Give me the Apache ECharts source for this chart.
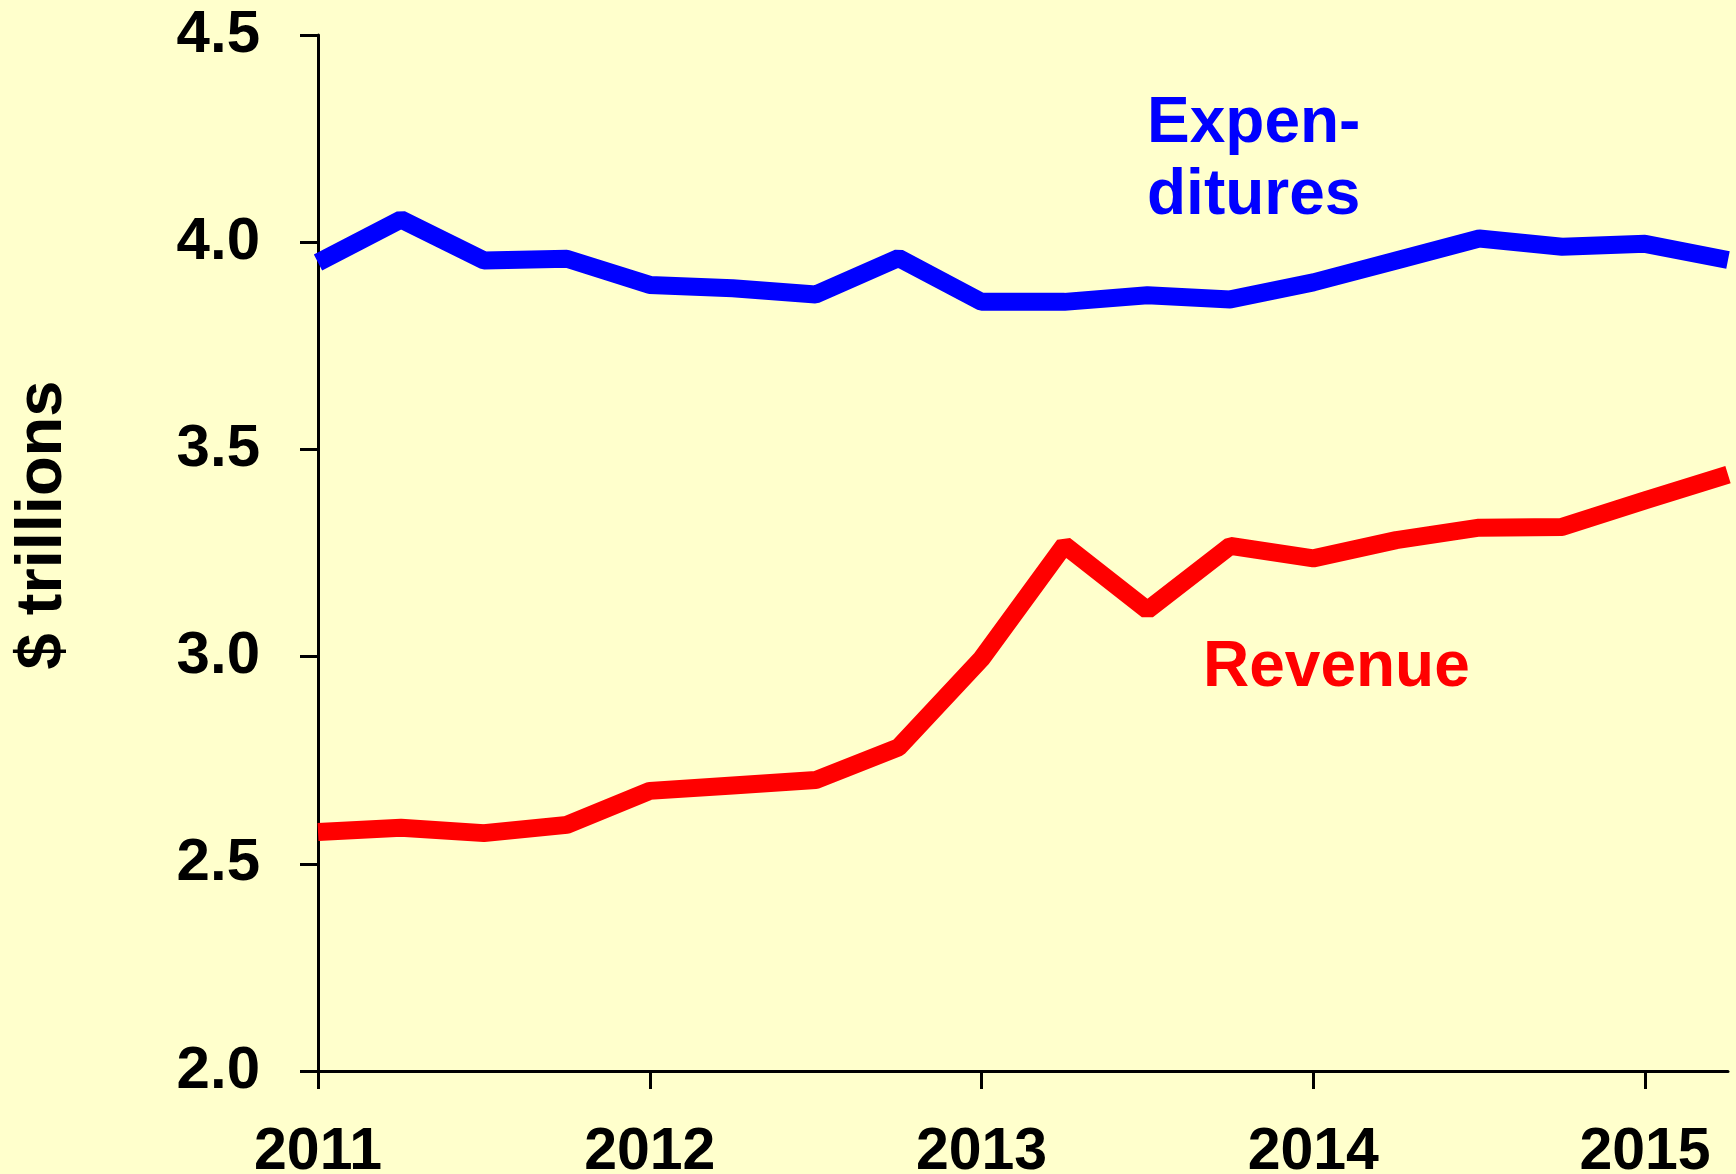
<!DOCTYPE html>
<html>
<head>
<meta charset="utf-8">
<script src="https://cdn.jsdelivr.net/npm/echarts@6/dist/echarts.min.js"></script>
<style>
  html, body { margin: 0; padding: 0; background: #FFFFCC; }
  #chart { width: 1736px; height: 1174px; }
</style>
</head>
<body>
<div id="chart"></div>
<script>
// 季度（年份小数）
var quarters = [2011, 2011.25, 2011.5, 2011.75, 2012, 2012.25, 2012.5, 2012.75,
  2013, 2013.25, 2013.5, 2013.75, 2014, 2014.25, 2014.5, 2014.75, 2015, 2015.25];
// 支出 $ trillions
var expenditures = [3.951, 4.055, 3.956, 3.960, 3.897, 3.889, 3.874, 3.962,
  3.856, 3.856, 3.872, 3.862, 3.903, 3.956, 4.009, 3.989, 3.996, 3.957];
// 收入 $ trillions
var revenue = [2.577, 2.587, 2.574, 2.594, 2.676, 2.689, 2.702, 2.781,
  2.995, 3.269, 3.112, 3.267, 3.237, 3.281, 3.311, 3.313, 3.377, 3.439];
// 刻度
var yearTicks = [2011, 2012, 2013, 2014, 2015];

function pairs(xs, ys) {
  return xs.map(function (x, i) { return [x, ys[i]]; });
}

var chart = echarts.init(document.getElementById('chart'));
var font = 'Liberation Sans, Arial, sans-serif';
var axisLine = { show: true, lineStyle: { color: '#000', width: 3 } };
var axisTick = { show: true, length: 18, lineStyle: { color: '#000', width: 3 } };

var option = {
  backgroundColor: '#FFFFCC',
  animation: false,
  grid: { left: 318, right: 8, top: 35, bottom: 103, outerBoundsMode: 'none', containLabel: false },
  xAxis: {
    type: 'value',
    min: 2011,
    max: 2015.25,
    interval: 1,
    splitLine: { show: false },
    axisLine: axisLine,
    axisTick: Object.assign({ customValues: yearTicks }, axisTick),
    axisLabel: {
      customValues: yearTicks,
      margin: 52,
      fontFamily: font, fontWeight: 'bold', fontSize: 59, color: '#000',
      formatter: function (v) { return String(v); }
    }
  },
  yAxis: {
    type: 'value',
    min: 2,
    max: 4.5,
    interval: 0.5,
    splitLine: { show: false },
    axisLine: axisLine,
    axisTick: axisTick,
    axisLabel: {
      margin: 58,
      fontFamily: font, fontWeight: 'bold', fontSize: 60, color: '#000',
      formatter: function (v) { return v.toFixed(1); }
    },
    name: '$ trillions',
    nameLocation: 'middle',
    nameGap: 242,
    nameTextStyle: {
      fontFamily: font, fontWeight: 'bold', fontSize: 65, color: '#000',
      padding: [0, 0, 0, 56]
    }
  },
  series: [
    {
      name: 'Expenditures',
      type: 'line',
      symbol: 'none',
      data: pairs(quarters, expenditures),
      lineStyle: { color: '#0000FF', width: 18 }
    },
    {
      name: 'Revenue',
      type: 'line',
      symbol: 'none',
      data: pairs(quarters, revenue),
      lineStyle: { color: '#FF0000', width: 18 }
    }
  ],
  graphic: [
    {
      type: 'text', left: 1147, top: 88,
      style: {
        text: 'Expen-\nditures', fill: '#0000FF',
        font: 'bold 64px ' + font, lineHeight: 72
      }
    },
    {
      type: 'text', left: 1203, top: 636,
      style: {
        text: 'Revenue', fill: '#FF0000',
        font: 'bold 64px ' + font
      }
    }
  ]
};

chart.setOption(option);
</script>
</body>
</html>
